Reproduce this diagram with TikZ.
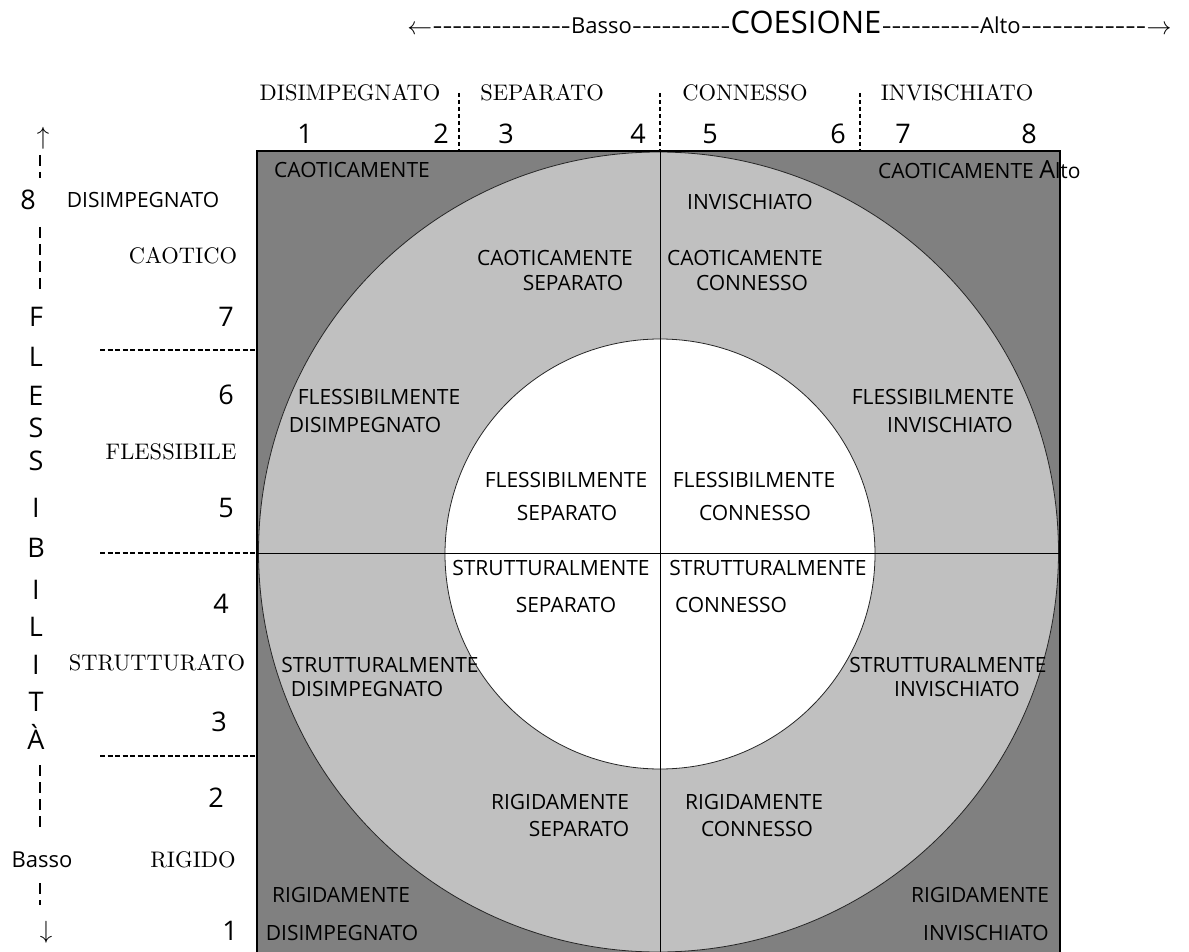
\documentclass[tikz,border=0pt]{standalone}
\usepackage{fontspec}
\usepackage{graphicx}
\newfontfamily\osans{Open Sans}
\newfontfamily\lmten{lmroman10-regular.otf}
\newcount\hycnt
\newcommand\hyphs[1]{\hycnt=#1\relax\loop-{}\advance\hycnt by -1\relax\ifnum\hycnt>0\repeat}
\definecolor{darkgr}{HTML}{808080}
\definecolor{lightgr}{HTML}{C0C0C0}
\begin{document}
\begin{tikzpicture}[x=1pt,y=-1pt,
  lab/.style={font=\osans\fontsize{21}{21}\selectfont, inner sep=0pt},
  num/.style={font=\osans\fontsize{27}{27}\selectfont, inner sep=0pt},
  ser/.style={font=\lmten\fontsize{22.5}{22.5}\selectfont, inner sep=0pt},
  hdr/.style={font=\osans\fontsize{22}{22}\selectfont, inner sep=0pt},
  hdrbig/.style={font=\osans\fontsize{31}{31}\selectfont, inner sep=0pt},
  arr/.style={font=\fontsize{26}{26}\selectfont, inner sep=0pt},
  sepline/.style={line width=1.2pt, dash pattern=on 4pt off 3pt},
  rowline/.style={line width=1.5pt, dash pattern=on 5pt off 2.5pt},
  axisline/.style={line width=1.2pt, dash pattern=on 11pt off 6pt}]
\useasboundingbox (0,0) rectangle (1189,952);
\fill[white] (0,0) rectangle (1189,952);
% chart
\fill[darkgr] (257,151) rectangle (1060,952);
\filldraw[fill=lightgr, draw=black!85, line width=0.8pt] (658.5,552) circle[radius=400];
\filldraw[fill=white, draw=black!85, line width=0.8pt] (660,554) circle[radius=215];
\draw[line width=1pt] (257,553) -- (1060,553);
\draw[line width=1pt] (660,151) -- (660,952);
\draw[line width=1.3pt] (257,952) -- (257,151) -- (1060,151) -- (1060,952);
% header
\node[hdrbig] (coes) at (806,22) {COESIONE};
\node[hdr, anchor=base east] (h2) at (coes.base west) {\resizebox{98pt}{\height}{\hyphs{10}}};
\node[hdr, anchor=base east] (basso) at (h2.base west) {Basso};
\node[hdr, anchor=base east] (h1) at (basso.base west) {\resizebox{138pt}{\height}{\hyphs{14}}};
\node[hdr, anchor=base west] (h3) at (coes.base east) {\resizebox{98pt}{\height}{\hyphs{10}}};
\node[hdr, anchor=base west] (alto) at (h3.base east) {Alto};
\node[hdr, anchor=base west] (h4) at (alto.base east) {\resizebox{125pt}{\height}{\hyphs{12}}};
\node[arr, anchor=east] (la) at (h1.west) {$\leftarrow$};
\node[arr, anchor=west] (ra) at (h4.east) {$\rightarrow$};
% top labels
\node[ser] (tdis) at (350,93) {DISIMPEGNATO};
\node[ser] (tsep) at (542,93) {SEPARATO};
\node[ser] (tcon) at (745,93) {CONNESSO};
\node[ser] (tinv) at (957,93) {INVISCHIATO};
\draw[sepline] (459,93) -- (459,151);
\draw[sepline] (660,93) -- (660,151);
\draw[sepline] (860,93) -- (860,151);
\node[num] (c1) at (305,134) {1};
\node[num] (c2) at (441,134) {2};
\node[num] (c3) at (506,134) {3};
\node[num] (c4) at (638,134) {4};
\node[num] (c5) at (710,134) {5};
\node[num] (c6) at (838,134) {6};
\node[num] (c7) at (903,134) {7};
\node[num] (c8) at (1029,134) {8};
% left axis
\node[arr] (up) at (43,138) {$\uparrow$};
\draw[axisline] (40,155) -- (40,178);
\node[num] (r8) at (28,200) {8};
\draw[axisline] (40,227) -- (40,295);
\node[num] (lF) at (36,317) {F};
\node[num] (lL1) at (36,357) {L};
\node[num] (lE) at (36,396) {E};
\node[num] (lS1) at (36,428) {S};
\node[num] (lS2) at (36,461) {S};
\node[num] (lI1) at (36,508) {I};
\node[num] (lB) at (36,548) {B};
\node[num] (lI2) at (36,590) {I};
\node[num] (lL2) at (36,627) {L};
\node[num] (lI3) at (36,665) {I};
\node[num] (lT) at (36,702) {T};
\node[num] (lA) at (36,737) {À};
\draw[axisline] (40,765) -- (40,832);
\node[hdr] (lbasso) at (42,860) {Basso};
\draw[axisline] (40,883) -- (40,905);
\node[arr] (down) at (46,932) {$\downarrow$};
% left labels
\node[lab] (ldis) at (143,200) {DISIMPEGNATO};
\node[ser] (lcao) at (183,256) {CAOTICO};
\node[ser] (lfle) at (171,452) {FLESSIBILE};
\node[ser] (lstr) at (157,663) {STRUTTURATO};
\node[ser] (lrig) at (193,860) {RIGIDO};
\node[num] (r7) at (226,317) {7};
\node[num] (r6) at (226,395) {6};
\node[num] (r5) at (226,508) {5};
\node[num] (r4) at (221,604) {4};
\node[num] (r3) at (219,722) {3};
\node[num] (r2) at (216,798) {2};
\node[num] (r1) at (230,931) {1};
\draw[rowline] (100,350) -- (257,350);
\draw[rowline] (100,553) -- (257,553);
\draw[rowline] (100,756) -- (257,756);
% inner labels
\node[lab] (a1) at (352,170) {CAOTICAMENTE};
\node[lab, anchor=west] (a2) at (878,170) {CAOTICAMENTE {\fontsize{25}{25}\selectfont A}lto};
\node[lab] (a3) at (750,202) {INVISCHIATO};
\node[lab] (b1) at (555,258) {CAOTICAMENTE};
\node[lab] (b2) at (573,283) {SEPARATO};
\node[lab] (b3) at (745,258) {CAOTICAMENTE};
\node[lab] (b4) at (752,283) {CONNESSO};
\node[lab] (d1) at (379,397) {FLESSIBILMENTE};
\node[lab] (d2) at (365,425) {DISIMPEGNATO};
\node[lab] (d3) at (933,397) {FLESSIBILMENTE};
\node[lab] (d4) at (950,425) {INVISCHIATO};
\node[lab] (e1) at (566,480) {FLESSIBILMENTE};
\node[lab] (e2) at (567,513) {SEPARATO};
\node[lab] (e3) at (754,480) {FLESSIBILMENTE};
\node[lab] (e4) at (755,513) {CONNESSO};
\node[lab] (f1) at (551,568) {STRUTTURALMENTE};
\node[lab] (f2) at (566,605) {SEPARATO};
\node[lab] (f3) at (768,568) {STRUTTURALMENTE};
\node[lab] (f4) at (731,605) {CONNESSO};
\node[lab] (g1) at (380,665) {STRUTTURALMENTE};
\node[lab] (g2) at (367,689) {DISIMPEGNATO};
\node[lab] (g3) at (948,665) {STRUTTURALMENTE};
\node[lab] (g4) at (957,689) {INVISCHIATO};
\node[lab] (k1) at (560,802) {RIGIDAMENTE};
\node[lab] (k2) at (579,829) {SEPARATO};
\node[lab] (k3) at (754,802) {RIGIDAMENTE};
\node[lab] (k4) at (757,829) {CONNESSO};
\node[lab] (m1) at (341,895) {RIGIDAMENTE};
\node[lab] (m2) at (342,933) {DISIMPEGNATO};
\node[lab] (m3) at (980,895) {RIGIDAMENTE};
\node[lab] (m4) at (986,933) {INVISCHIATO};
\end{tikzpicture}
\end{document}
